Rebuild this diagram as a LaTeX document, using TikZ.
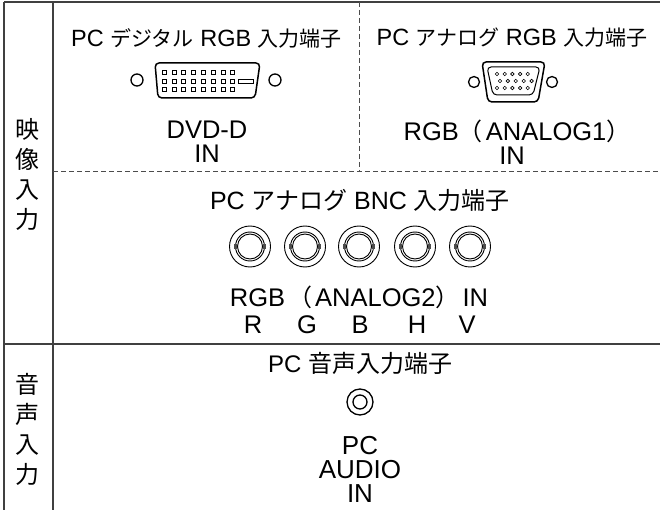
\documentclass[tikz,border=0pt]{standalone}
\usepackage{fontspec}
\setmainfont{Liberation Sans}
\newfontfamily\jpfont{Noto Sans CJK JP}
\newcommand{\jp}[2][21]{{\jpfont\fontsize{#1}{#1}\selectfont #2}}
\tikzset{
	lbl/.style={inner sep=0pt, font=\fontsize{25.5}{23.6}\selectfont, align=center},
	toplbl/.style={inner sep=0pt, font=\fontsize{23.5}{23}\selectfont, align=center},
	side/.style={inner sep=0pt, font=\jpfont\fontsize{24}{30}\selectfont, align=center},
	rule/.style={line width=1.6pt, black!75},
	dashrule/.style={line width=1pt, black!70, dash pattern=on 5pt off 3pt},
	ring/.style={circle, draw, line width=1.3pt, minimum size=#1, inner sep=0pt},
	thinring/.style={circle, draw, line width=0.9pt, minimum size=#1, inner sep=0pt},
	lug/.style={fill, black!70, inner sep=0pt, minimum width=2.5pt, minimum height=5pt},
	pin/.style={draw, line width=0.6pt, minimum size=4pt, inner sep=0pt},
	hole/.style={circle, draw, line width=0.6pt, minimum size=3.5pt, inner sep=0pt}
}
\begin{document}
\begin{tikzpicture}[x=1pt, y=-1pt]
	\useasboundingbox (0,0) rectangle (660,510);
	% table rules
	\coordinate (tl) at (4,2);
	\coordinate (tr) at (660,2);
	\coordinate (bl) at (4,510);
	\coordinate (ml) at (4,344);
	\coordinate (mr) at (660,344);
	\coordinate (il) at (53,2);
	\coordinate (ib) at (53,510);
	\coordinate (dl) at (53,172);
	\coordinate (dr) at (660,172);
	\coordinate (vt) at (359,2);
	\coordinate (vb) at (359,172);
	\draw[rule] (tl) -- (tr);
	\draw[rule] (tl) -- (bl);
	\draw[rule] (il) -- (ib);
	\draw[rule] (ml) -- (mr);
	\draw[dashrule] (dl) -- (dr);
	\draw[dashrule] (vt) -- (vb);
	% side labels
	\node[side] (video) at (28,174) {映\\像\\入\\力};
	\node[side] (audio) at (28,429) {音\\声\\入\\力};
	% top left
	\node[toplbl] (dvititle) at (206.5,38) {PC \jp{デジタル} RGB \jp{入力端子}};
	\node[lbl] (dviname) at (207,142) {DVD-D\\IN};
	\node[ring=12pt] (dvil) at (137,80) {};
	\node[ring=12pt] (dvir) at (275,80) {};
	\draw[line width=1.5pt, rounded corners=4pt] (155,63) -- (260,63) -- (255,98) -- (158,98) -- cycle;
	\foreach \y in {72,81,89}
		\foreach \i in {0,...,7}
			\node[pin] (p\i-\y) at (164+9.8*\i,\y) {};
	\node[draw, line width=0.6pt, minimum width=15pt, minimum height=4pt, inner sep=0pt] (blade) at (245.5,81) {};
	% top right
	\node[toplbl] (vgatitle) at (512,38) {PC \jp{アナログ} RGB \jp{入力端子}};
	\node[lbl] (vganame) at (517,142) {RGB\jp[24]{（}\hspace{3pt}ANALOG1\jp[24]{）}\\\hspace{-10pt}IN};
	\node[ring=11pt] (vgal) at (474,82) {};
	\node[ring=11pt] (vgar) at (552,82) {};
	\draw[line width=1.5pt, rounded corners=4pt] (482,62) -- (545,62) -- (538,102) -- (488,102) -- cycle;
	\draw[line width=1pt, rounded corners=4pt] (487,67) -- (540,67) -- (533,95) -- (493,95) -- cycle;
	\foreach \i in {0,...,4}{
		\node[hole] (a\i) at (497+7.7*\i,74) {};
		\node[hole] (b\i) at (500+7.9*\i,81) {};
		\node[hole] (c\i) at (497+7.7*\i,88) {};
	}
	% middle
	\node[lbl, font=\fontsize{25}{25}\selectfont] (bnctitle) at (360,200) {PC \jp[24]{アナログ} BNC \jp[24]{入力端子}};
	\foreach \x/\n in {250/R,305/G,359/B,415/H,470/V}{
		\node[thinring=41pt] (out\n) at (\x,246.5) {};
		\node[thinring=29pt] (mid\n) at (\x,246.5) {};
		\node[thinring=25pt] (in\n) at (\x,246.5) {};
		\node[lug] (lug\n) at (\x-14.5,246.5) {};
		\node[lug] (gul\n) at (\x+14.5,246.5) {};
	}
	\foreach \x/\n in {253/R,307/G,360/B,417/H,467/V}
		\node[lbl] (name\n) at (\x,324.5) {\n};
	\node[lbl] (bncname) at (359,297) {RGB\hspace{3pt}\jp[24]{（}\hspace{3pt}ANALOG2\jp[24]{）}\hspace{3pt}IN};
	% bottom
	\node[lbl, font=\fontsize{24}{24}\selectfont] (audtitle) at (360,363) {PC \jp[24]{音声入力端子}};
	\node[ring=26pt] (jack) at (360,402) {};
	\node[ring=14pt] (jackin) at (360,402) {};
	\node[lbl, font=\fontsize{26}{24}\selectfont] (audname) at (360,469) {PC\\AUDIO\\IN};
\end{tikzpicture}
\end{document}
